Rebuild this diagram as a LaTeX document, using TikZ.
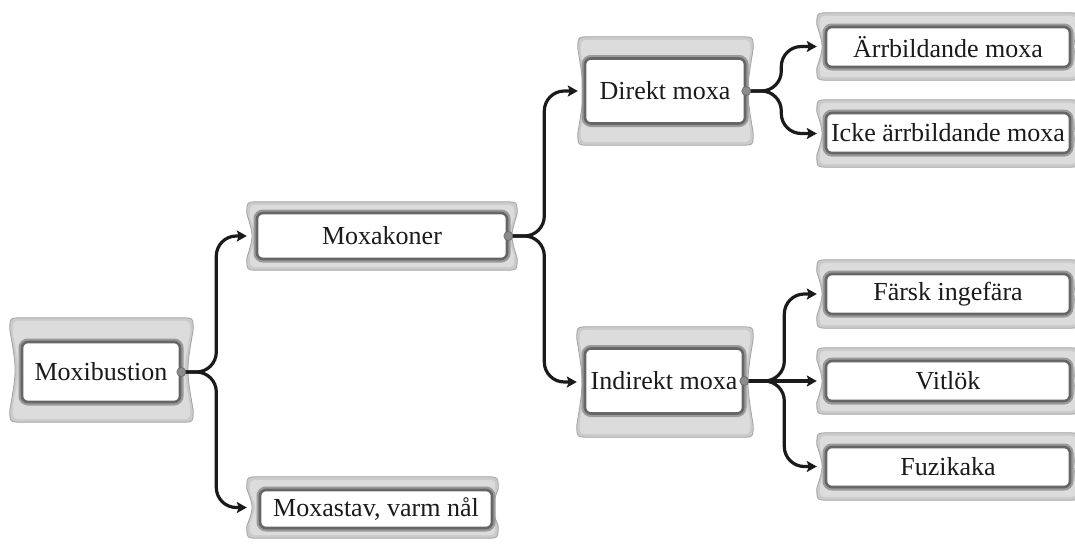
\documentclass[tikz,border=0pt]{standalone}
\usepackage{fontspec}
\setmainfont{Liberation Serif}
\usetikzlibrary{calc,arrows.meta}

\definecolor{bandout}{HTML}{A2A2A2}
\definecolor{bandfill}{HTML}{CBCBCB}
\definecolor{bandlight}{HTML}{DCDCDC}
\definecolor{ringdark}{HTML}{666666}
\definecolor{ringmid}{HTML}{9A9A9A}
\definecolor{ink}{HTML}{1A1A1A}
\definecolor{dotgray}{HTML}{8C8C8C}

% pillow-shaped band around a frame node: #1 node, #2 inset, #3 style
\newcommand\pillowpath[3]{%
  \path[#3] let \p1=(#1.north west), \p2=(#1.south east), \p3=(#1.west) in
   (\x1+#2+12pt,\y1-#2) -- (\x2-#2-12pt,\y1-#2)
   .. controls (\x2-#2,\y1-#2) .. (\x2-#2,\y1-#2-12pt)
   .. controls (\x2-#2-7pt,\y3) .. (\x2-#2,\y2+#2+12pt)
   .. controls (\x2-#2,\y2+#2) .. (\x2-#2-12pt,\y2+#2)
   -- (\x1+#2+12pt,\y2+#2)
   .. controls (\x1+#2,\y2+#2) .. (\x1+#2,\y2+#2+12pt)
   .. controls (\x1+#2+7pt,\y3) .. (\x1+#2,\y1-#2-12pt)
   .. controls (\x1+#2,\y1-#2) .. cycle;}
\newcommand\pillowband[1]{%
  \pillowpath{#1}{0pt}{fill=black!7, xshift=1pt, yshift=-3pt}%
  \pillowpath{#1}{0pt}{fill=bandfill, draw=bandout, line width=0.8pt}%
  \pillowpath{#1}{3pt}{fill=bandlight}}

\tikzset{
  framebox/.style={inner sep=0pt, draw=none},
  item/.style={fill=white, draw=ringdark, line width=2.6pt, rounded corners=6pt,
    inner sep=0pt, text=ink, font=\fontsize{26}{30}\selectfont,
    preaction={draw=ringmid, line width=7pt}},
  conn/.style={draw=ink, line width=3.2pt, rounded corners=20pt,
    -{Stealth[length=10pt,width=11pt,inset=2pt]}},
}

\begin{document}
\begin{tikzpicture}[x=1pt, y=-1pt]
\useasboundingbox (0,0) rectangle (1075,544);

% frame nodes (outer bands)
\node[framebox, minimum width=183pt, minimum height=104pt] (fmx) at (101.5,370) {};
\node[framebox, minimum width=270pt, minimum height=68pt]  (fmk) at (382,236) {};
\node[framebox, minimum width=251pt, minimum height=61pt]  (fms) at (372.5,507.5) {};
\node[framebox, minimum width=175pt, minimum height=108pt] (fdm) at (665.5,91) {};
\node[framebox, minimum width=176pt, minimum height=110pt] (fim) at (665,382) {};
\node[framebox, minimum width=262pt, minimum height=67pt]  (far) at (948,46.5) {};
\node[framebox, minimum width=262pt, minimum height=67pt]  (fic) at (948,133.5) {};
\node[framebox, minimum width=262pt, minimum height=68pt]  (ffa) at (948,294) {};
\node[framebox, minimum width=262pt, minimum height=66pt]  (fvi) at (948,381) {};
\node[framebox, minimum width=262pt, minimum height=67pt]  (ffu) at (948,466.5) {};

\foreach \f in {fmx,fmk,fms,fdm,fim,far,fic,ffa,fvi,ffu} {\pillowband{\f}}

% labelled boxes
\node[item, minimum width=158pt, minimum height=60pt] (mx) at (101,372) {Moxibustion};
\node[item, minimum width=250pt, minimum height=46pt] (mk) at (382,236) {Moxakoner};
\node[item, minimum width=232pt, minimum height=38pt] (ms) at (376,509) {Moxastav, varm nål};
\node[item, minimum width=160pt, minimum height=65pt] (dm) at (665,91) {Direkt moxa};
\node[item, minimum width=158pt, minimum height=65pt] (im) at (664,381) {Indirekt moxa};
\node[item, minimum width=244pt, minimum height=40pt] (ar) at (948,47) {Ärrbildande moxa};
\node[item, minimum width=244pt, minimum height=40pt] (ic) at (948,133) {Icke ärrbildande moxa};
\node[item, minimum width=244pt, minimum height=40pt] (fa) at (948,294) {Färsk ingefära};
\node[item, minimum width=244pt, minimum height=40pt] (vi) at (948,381) {Vitlök};
\node[item, minimum width=244pt, minimum height=40pt] (fu) at (948,467) {Fuzikaka};

% connectors
\draw[conn] (mx.east) -- ++(35,0) |- (fmk.west);
\draw[conn] (mx.east) -- ++(35,0) |- (fms.west);
\draw[conn] (mk.east) -- ++(36,0) |- (fdm.west);
\draw[conn] (mk.east) -- ++(36,0) |- (fim.west);
\draw[conn] (dm.east) -- ++(35,0) |- (far.west);
\draw[conn] (dm.east) -- ++(35,0) |- (fic.west);
\draw[conn] (im.east) -- ++(40,0) |- (ffa.west);
\draw[conn] (im.east) -- (fvi.west);
\draw[conn] (im.east) -- ++(40,0) |- (ffu.west);

% outlet dots
\foreach \n in {mx,mk,dm,im}
  \fill[dotgray, draw=ringdark, line width=0.6pt] (\n.east) circle[radius=4.5pt];
\end{tikzpicture}
\end{document}
